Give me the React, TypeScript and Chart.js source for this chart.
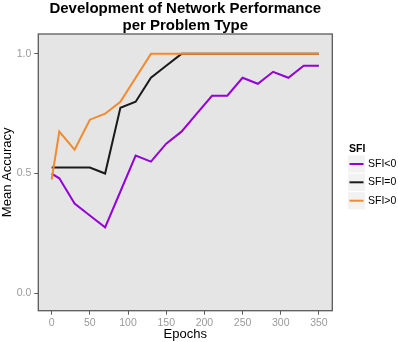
import React, { useEffect, useRef } from "react";
import { Chart, registerables } from "chart.js";

Chart.register(...registerables);

const epochs = [0, 10, 30, 50, 70, 90, 110, 130, 150, 170, 190, 210, 230, 250, 270, 290, 310, 330, 350];
const sfiNeg = [0.5, 0.48, 0.375, 0.325, 0.275, 0.425, 0.575, 0.55, 0.625, 0.675, 0.75, 0.825, 0.825, 0.9, 0.875, 0.925, 0.9, 0.95, 0.95];
const sfiZero = [0.525, 0.525, 0.525, 0.525, 0.5, 0.775, 0.8, 0.9, 0.95, 1, 1, 1, 1, 1, 1, 1, 1, 1, 1];
const sfiPos = [0.475, 0.675, 0.6, 0.725, 0.75, 0.8, 0.9, 1, 1, 1, 1, 1, 1, 1, 1, 1, 1, 1, 1];
const seriesLabels = ["SFI<0", "SFI=0", "SFI>0"];
const seriesColors = ["#9400D8", "#1a1a1a", "#F28A2E"];
const xTicks = [0, 50, 100, 150, 200, 250, 300, 350];
const yTicks = [0, 0.5, 1.0];
const titleLines = ["Development of Network Performance", "per Problem Type"];

const FONT = "'Liberation Sans', Arial, Helvetica, sans-serif";

export default function App() {
  const ref = useRef<HTMLCanvasElement | null>(null);

  useEffect(() => {
    const canvas = ref.current;
    if (!canvas) return;
    const series = [sfiNeg, sfiZero, sfiPos];

    const decor = {
      id: "decor",
      beforeDatasetsDraw(chart: any) {
        const { ctx, chartArea: a } = chart;
        ctx.save();
        ctx.fillStyle = "#E5E5E5";
        ctx.fillRect(a.left, a.top, a.right - a.left, a.bottom - a.top);
        ctx.restore();
      },
      afterDraw(chart: any) {
        const { ctx, chartArea: a } = chart;
        ctx.save();
        ctx.strokeStyle = "#5a5a5a";
        ctx.lineWidth = 1.3;
        ctx.strokeRect(a.left, a.top, a.right - a.left, a.bottom - a.top);

        // title
        ctx.fillStyle = "#000";
        ctx.font = `bold 15px ${FONT}`;
        ctx.textAlign = "center";
        ctx.textBaseline = "middle";
        const cx = (a.left + a.right) / 2;
        ctx.fillText(titleLines[0], cx, 9);
        ctx.fillText(titleLines[1], cx, 26);

        // axis titles
        ctx.font = `13px ${FONT}`;
        ctx.fillText("Epochs", cx, 334);
        ctx.save();
        ctx.translate(7.5, (a.top + a.bottom) / 2);
        ctx.rotate(-Math.PI / 2);
        ctx.fillText("Mean Accuracy", 0, 0);
        ctx.restore();

        // legend
        ctx.textAlign = "left";
        ctx.font = `bold 10.5px ${FONT}`;
        ctx.fillText("SFI", 349, 149.5);
        ctx.font = `10.5px ${FONT}`;
        const ys = [164, 182.3, 200.7];
        for (let i = 0; i < 3; i++) {
          ctx.fillStyle = "#F2F2F2";
          ctx.fillRect(348, ys[i] - 8.6, 17, 17.2);
          ctx.strokeStyle = seriesColors[i];
          ctx.lineWidth = 2;
          ctx.beginPath();
          ctx.moveTo(349.5, ys[i]);
          ctx.lineTo(363.5, ys[i]);
          ctx.stroke();
          ctx.fillStyle = "#000";
          ctx.fillText(seriesLabels[i], 368, ys[i]);
        }
        ctx.restore();
      },
    };

    const chart = new Chart(canvas, {
      type: "line",
      data: {
        datasets: series.map((vals, i) => ({
          label: seriesLabels[i],
          data: epochs.map((e, j) => ({ x: e, y: vals[j] })),
          borderColor: seriesColors[i],
          backgroundColor: seriesColors[i],
          borderWidth: 2,
          pointRadius: 0,
          tension: 0,
          fill: false,
          order: 3 - i,
        })),
      },
      options: {
        animation: false,
        responsive: false,
        devicePixelRatio: 1,
        layout: { padding: { top: 34, right: 65.7, left: 0, bottom: 0 } },
        plugins: { legend: { display: false }, tooltip: { enabled: false }, title: { display: false } },
        scales: {
          x: {
            type: "linear",
            min: -17.5,
            max: 367.5,
            afterBuildTicks: (s: any) => {
              s.ticks = xTicks.map((v) => ({ value: v }));
            },
            afterFit: (s: any) => {
              s.height = 31.3;
            },
            grid: { drawOnChartArea: false, drawTicks: true, tickLength: 4, color: "#5a5a5a" },
            border: { display: false },
            ticks: { color: "#9a9a9a", font: { size: 10.5, family: FONT }, padding: 2, maxRotation: 0, autoSkip: false },
          },
          y: {
            type: "linear",
            min: -0.073,
            max: 1.083,
            afterBuildTicks: (s: any) => {
              s.ticks = yTicks.map((v) => ({ value: v }));
            },
            afterFit: (s: any) => {
              s.width = 38.3;
            },
            grid: { drawOnChartArea: false, drawTicks: true, tickLength: 4, color: "#5a5a5a" },
            border: { display: false },
            ticks: {
              color: "#9a9a9a",
              font: { size: 10.5, family: FONT },
              padding: 3,
              autoSkip: false,
              callback: (v: any) => Number(v).toFixed(1),
            },
          },
        },
      },
      plugins: [decor],
    });
    return () => chart.destroy();
  }, []);

  return (
    <div style={{ position: "fixed", left: 0, top: 0, width: 398, height: 342, background: "#fff" }}>
      <canvas ref={ref} width={398} height={342} style={{ width: 398, height: 342, display: "block" }} />
    </div>
  );
}
